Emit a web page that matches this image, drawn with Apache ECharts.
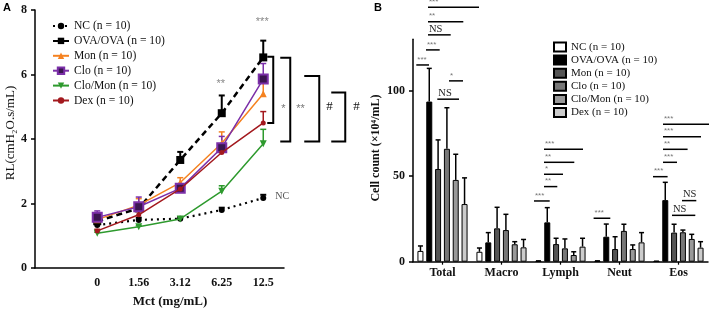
<!DOCTYPE html>
<html><head><meta charset="utf-8">
<script src="https://cdn.jsdelivr.net/npm/echarts@6/dist/echarts.min.js"></script>
<style>
html,body{margin:0;padding:0;background:#fff;width:709px;height:309px;overflow:hidden}
#a{position:absolute;left:0;top:0;width:360px;height:309px}
#b{position:absolute;left:360px;top:0;width:349px;height:309px}
</style>
</head><body><div id="a"></div><div id="b"></div>
<script>
// ---------- Panel A data ----------
const doseLabels = ['', '0', '1.56', '3.12', '6.25', '12.5'];
const groupNames = ['NC (n = 10)', 'OVA/OVA (n = 10)', 'Mon (n = 10)', 'Clo (n = 10)', 'Clo/Mon (n = 10)', 'Dex (n = 10)'];
const rlNC     = [1.33, 1.49, 1.53, 1.80, 2.17];
const rlOVA    = [1.45, 1.85, 3.35, 4.80, 6.53];
const rlMon    = [1.50, 1.95, 2.65, 3.87, 5.40];
const rlClo    = [1.57, 1.90, 2.47, 3.73, 5.86];
const rlCloMon = [1.08, 1.28, 1.52, 2.38, 3.85];
const rlDex    = [1.15, 1.65, 2.45, 3.58, 4.50];
const errNC     = [0.08, 0.07, 0.05, 0.07, 0.10];
const errOVA    = [0.10, 0.15, 0.25, 0.55, 0.52];
const errMon    = [0.10, 0.20, 0.15, 0.35, 0.45];
const errClo    = [0.20, 0.30, 0.05, 0.35, 0.48];
const errCloMon = [0.03, 0.03, 0.03, 0.17, 0.45];
const errDex    = [0.05, 0.10, 0.05, 0.05, 0.35];
const yTicksA = [0, 2, 4, 6, 8];
// brackets at 12.5: [top, bottom, label]
const bracketTops    = [6.55, 6.52, 5.95, 5.44];
const bracketBottoms = [4.50, 3.92, 3.92, 3.92];
const bracketLabels  = ['*', '**', '#', '#'];
const bracketLabelY  = 5.02;
// annotations A: [categoryIndex, y, text]
const annotA = [[4, 5.72, '**'], [5, 7.62, '***'], [5, 2.21, 'NC']];

// ---------- Panel B data ----------
const cellCategories = ['Total', 'Macro', 'Lymph', 'Neut', 'Eos'];
const cellNC     = [6.3, 5.8, 0.3, 0.3, 0.2];
const cellOVA    = [93.6, 11.3, 23.0, 14.6, 36.0];
const cellMon    = [54.2, 19.5, 10.3, 7.4, 17.0];
const cellClo    = [66.0, 18.5, 7.8, 18.0, 17.2];
const cellCloMon = [47.8, 10.2, 3.9, 7.4, 13.3];
const cellDex    = [33.7, 8.4, 8.8, 11.3, 8.2];
const errCellNC     = [2.9, 2.2, 0.2, 0.2, 0.1];
const errCellOVA    = [19.4, 5.7, 8.6, 7.4, 10.4];
const errCellMon    = [17.0, 12.3, 3.4, 7.2, 4.9];
const errCellClo    = [24.0, 9.2, 5.5, 3.9, 1.3];
const errCellCloMon = [15.0, 1.5, 1.9, 2.4, 2.7];
const errCellDex    = [15.3, 4.6, 4.9, 5.7, 3.5];
const yTicksB = [0, 50, 100];
// significance lines B: [category, yValue, label]
const sigCat   = [0, 0, 0, 0, 0, 0, 0, 2, 2, 2, 2, 2, 3, 4, 4, 4, 4, 4, 4, 4];
const sigY     = [115.0, 123.8, 132.6, 140.3, 148.8, 105.7, 95.0, 65.7, 58.1, 51.1, 43.9, 35.5, 25.4, 80.4, 73.1, 65.7, 58.1, 49.7, 35.7, 27.1];
const sigLabel = ['***', '***', 'NS', '**', '***', '*', 'NS', '***', '**', '*', '**', '***', '***', '***', '***', '**', '***', '***', 'NS', 'NS'];
// horizontal extents of lines (px relative to category centre) - layout only
const sigX0 = [-26.2, -16.5, -14.5, -14.5, -14.5, 6.5, -5.2, -16.5, -16.5, -16.5, -16.5, -26.5, -25.9, -15.5, -15.5, -15.5, -15.5, -25.5, 3.5, -6.5];
const sigX1 = [-13.5, -2.8, 8.2, 20.8, 36.5, 20.5, 16.5, 22.5, 13.8, 2.5, -3.2, -10.8, -9.2, 30.8, 22.5, 9.1, -1.5, -10.9, 17.8, 16.8];

// ---------- common ----------
const serif = '"Liberation Serif", "Times New Roman", serif';
const sans = '"Liberation Sans", Arial, sans-serif';

// ================= Chart A =================
const chartA = echarts.init(document.getElementById('a'));
const stylesA = [
  {color: '#000000', symbol: 'circle', size: 6, line: [2, 4], width: 2.2, rot: 0},
  {color: '#000000', symbol: 'rect', size: 8, line: [6, 4], width: 2.5, rot: 0},
  {color: '#f58220', symbol: 'triangle', size: 7, line: 'solid', width: 1.5, rot: 0},
  {color: '#7b2fa8', symbol: 'rect', size: 9, line: 'solid', width: 1.5, rot: 0, fill: '#3a1550'},
  {color: '#2e9a2e', symbol: 'triangle', size: 7, line: 'solid', width: 1.5, rot: 180},
  {color: '#a3191e', symbol: 'circle', size: 5, line: 'solid', width: 1.5, rot: 0}
];
const meansA = [rlNC, rlOVA, rlMon, rlClo, rlCloMon, rlDex];
const errsA = [errNC, errOVA, errMon, errClo, errCloMon, errDex];

const seriesA = [];
meansA.forEach((m, k) => {
  const s = stylesA[k];
  seriesA.push({
    type: 'custom', name: 'errA' + k, clip: false, z: 2, silent: true,
    data: m.map((v, i) => [i + 1, v, v + errsA[k][i]]),
    encode: {x: 0, y: [1, 2]},
    renderItem: (p, api) => {
      const a = api.coord([api.value(0), api.value(1)]);
      const b = api.coord([api.value(0), api.value(2)]);
      const lw = k < 2 ? 2 : 1.5;
      return {type: 'group', children: [
        {type: 'line', shape: {x1: a[0], y1: a[1], x2: b[0], y2: b[1]}, style: {stroke: s.color, lineWidth: lw}},
        {type: 'line', shape: {x1: b[0] - 3, y1: b[1], x2: b[0] + 3, y2: b[1]}, style: {stroke: s.color, lineWidth: lw}}
      ]};
    }
  });
});
meansA.forEach((m, k) => {
  const s = stylesA[k];
  seriesA.push({
    type: 'line', name: groupNames[k], data: [null].concat(m),
    symbol: s.symbol, symbolSize: s.size, symbolRotate: s.rot, showAllSymbol: true,
    lineStyle: {color: s.color, width: s.width, type: s.line},
    itemStyle: {color: s.fill || s.color, borderColor: s.color, borderWidth: s.fill ? 2 : 0},
    z: 3 + k, emphasis: {disabled: true}
  });
});
// brackets
seriesA.push({
  type: 'custom', name: 'brackets', clip: false, silent: true, z: 10,
  data: bracketTops.map((t, i) => [5, t, bracketBottoms[i]]),
  encode: {x: 0, y: [1, 2]},
  renderItem: (p, api) => {
    const i = p.dataIndex;
    const offs = [[4, 10, 18], [17, 27, 33], [41, 56, 63], [68, 82, 90]][i];
    const t = api.coord([5, api.value(1)]);
    const b = api.coord([5, api.value(2)]);
    const ly = api.coord([5, bracketLabelY])[1];
    const cx = t[0];
    const isHash = bracketLabels[i] === '#';
    return {type: 'group', children: [
      {type: 'polyline', shape: {points: [[cx + offs[0], t[1]], [cx + offs[1], t[1]], [cx + offs[1], b[1]], [cx + offs[0], b[1]]]},
       style: {stroke: '#000', lineWidth: 2, fill: null}},
      {type: 'text', x: cx + offs[2], y: ly + (isHash ? 0 : 3), style: {text: bracketLabels[i], align: 'left', verticalAlign: 'middle',
        font: isHash ? ('13px ' + serif) : ('11px ' + sans), fill: isHash ? '#111' : '#777'}}
    ]};
  }
});
seriesA.push({
  type: 'custom', name: 'annotA', clip: false, silent: true, z: 10,
  data: annotA.map(a => [a[0], a[1]]),
  encode: {x: 0, y: 1},
  renderItem: (p, api) => {
    const txt = annotA[p.dataIndex][2];
    const pt = api.coord([api.value(0), api.value(1)]);
    if (txt === 'NC') {
      return {type: 'text', x: pt[0] + 12, y: pt[1], style: {text: txt, align: 'left', verticalAlign: 'middle', font: '10px ' + serif, fill: '#555'}};
    }
    return {type: 'text', x: pt[0] - 1, y: pt[1], style: {text: txt, align: 'center', verticalAlign: 'middle', font: '11px ' + sans, fill: '#888'}};
  }
});

chartA.setOption({
  animation: false,
  grid: {left: 35, right: 76, top: 10, bottom: 41},
  legend: {
    orient: 'vertical', left: 47, top: 15, itemWidth: 16, itemHeight: 8, itemGap: 2.9,
    data: groupNames, selectedMode: false,
    textStyle: {fontFamily: serif, fontSize: 11.6, color: '#111', lineHeight: 11}
  },
  xAxis: {
    type: 'category', data: doseLabels, boundaryGap: true,
    axisLine: {lineStyle: {color: '#000', width: 1.5}},
    axisTick: {show: false},
    axisLabel: {fontFamily: serif, fontWeight: 'bold', fontSize: 12, color: '#111', margin: 9}
  },
  yAxis: {
    type: 'value', min: 0, max: 8, interval: 2,
    splitLine: {show: false},
    axisLine: {show: true, lineStyle: {color: '#000', width: 1.5}},
    axisTick: {show: true, length: 4, lineStyle: {color: '#000', width: 1.5}},
    axisLabel: {fontFamily: serif, fontWeight: 'bold', fontSize: 12, color: '#111', margin: 8,
      formatter: v => yTicksA.includes(v) ? String(v) : ''}
  },
  graphic: [
    {type: 'text', left: 3, top: 2, style: {text: 'A', font: 'bold 11px ' + sans, fill: '#000'}},
    {type: 'text', x: 11, y: 133, rotation: Math.PI / 2, style: {text: 'RL(cmH₂O.s/mL)', font: '13px ' + serif, fill: '#111', align: 'center', verticalAlign: 'middle'}},
    {type: 'text', x: 170, y: 302, style: {text: 'Mct (mg/mL)', font: 'bold 13px ' + serif, fill: '#111', align: 'center', verticalAlign: 'middle'}}
  ],
  series: seriesA
});

// ================= Chart B =================
const chartB = echarts.init(document.getElementById('b'));
const barColors = ['#ffffff', '#000000', '#555555', '#777777', '#999999', '#cccccc'];
const meansB = [cellNC, cellOVA, cellMon, cellClo, cellCloMon, cellDex];
const errsB = [errCellNC, errCellOVA, errCellMon, errCellClo, errCellCloMon, errCellDex];
const barW = 6, barGapRatio = 0.47;
const step = barW * (1 + barGapRatio);

const seriesB = [];
meansB.forEach((m, k) => {
  seriesB.push({
    type: 'bar', name: groupNames[k], data: m, barWidth: barW, barGap: (barGapRatio * 100) + '%',
    itemStyle: {color: barColors[k], borderColor: '#000', borderWidth: 1}, z: 2,
    emphasis: {disabled: true}
  });
});
meansB.forEach((m, k) => {
  seriesB.push({
    type: 'custom', name: 'errB' + k, clip: false, silent: true, z: 3,
    data: m.map((v, i) => [i, v, v + errsB[k][i]]),
    encode: {x: 0, y: [1, 2]},
    renderItem: (p, api) => {
      const off = (k - 2.5) * step;
      const a = api.coord([api.value(0), api.value(1)]);
      const b = api.coord([api.value(0), api.value(2)]);
      const x = a[0] + off;
      return {type: 'group', children: [
        {type: 'line', shape: {x1: x, y1: a[1], x2: x, y2: b[1]}, style: {stroke: '#000', lineWidth: 1.5}},
        {type: 'line', shape: {x1: x - 2.5, y1: b[1], x2: x + 2.5, y2: b[1]}, style: {stroke: '#000', lineWidth: 1.5}}
      ]};
    }
  });
});
seriesB.push({
  type: 'custom', name: 'sigB', clip: false, silent: true, z: 5,
  data: sigCat.map((c, i) => [c, sigY[i]]),
  encode: {x: 0, y: 1},
  renderItem: (p, api) => {
    const i = p.dataIndex;
    const pt = api.coord([api.value(0), api.value(1)]);
    const x0 = pt[0] + sigX0[i], x1 = pt[0] + sigX1[i];
    const lbl = sigLabel[i];
    const isNS = lbl === 'NS';
    return {type: 'group', children: [
      {type: 'line', shape: {x1: x0, y1: pt[1], x2: x1, y2: pt[1]}, style: {stroke: '#000', lineWidth: 1.5}},
      {type: 'text', x: x0 + 1, y: pt[1] - (isNS ? 0.5 : 1.5), style: {text: lbl, align: 'left', verticalAlign: 'bottom',
        font: isNS ? ('10.5px ' + serif) : ('8px ' + sans), fill: isNS ? '#222' : '#777'}}
    ]};
  }
});

chartB.setOption({
  animation: false,
  grid: {left: 53, right: 1, top: 39.3, bottom: 47.3},
  legend: {
    orient: 'vertical', left: 188, top: 36.5, itemWidth: 12, itemHeight: 9, itemGap: 2.1, icon: 'rect',
    data: groupNames, selectedMode: false,
    textStyle: {fontFamily: serif, fontSize: 11, color: '#111', lineHeight: 11}
  },
  xAxis: {
    type: 'category', data: cellCategories, boundaryGap: true,
    axisLine: {lineStyle: {color: '#000', width: 1.5}},
    axisTick: {show: true, alignWithLabel: true, length: 3, lineStyle: {color: '#000', width: 1.2}},
    axisLabel: {fontFamily: serif, fontWeight: 'bold', fontSize: 12, color: '#111', margin: 5}
  },
  yAxis: {
    type: 'value', min: 0, max: 130, interval: 50,
    splitLine: {show: false},
    axisLine: {show: true, lineStyle: {color: '#000', width: 1.5}},
    axisTick: {show: true, length: 4, lineStyle: {color: '#000', width: 1.5}, customValues: yTicksB},
    axisLabel: {fontFamily: serif, fontWeight: 'bold', fontSize: 12, color: '#111', margin: 8, customValues: yTicksB,
      formatter: v => yTicksB.includes(v) ? String(v) : ''}
  },
  graphic: [
    {type: 'text', left: 14, top: 2, style: {text: 'B', font: 'bold 11px ' + sans, fill: '#000'}},
    {type: 'text', x: 16, y: 148, rotation: Math.PI / 2, style: {text: 'Cell count (×10⁴/mL)', font: 'bold 12px ' + serif, fill: '#111', align: 'center', verticalAlign: 'middle'}}
  ],
  series: seriesB
});
</script>
</body></html>
